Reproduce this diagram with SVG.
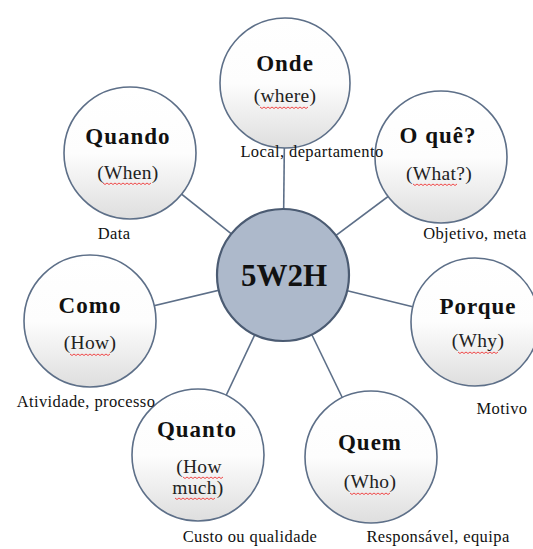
<svg xmlns="http://www.w3.org/2000/svg" width="533" height="549" viewBox="0 0 533 549">
  <defs>
    <linearGradient id="bubbleFill" x1="0" y1="0" x2="0" y2="1">
      <stop offset="0" stop-color="#ffffff"/>
      <stop offset="0.5" stop-color="#fdfdfd"/>
      <stop offset="1" stop-color="#dedede"/>
    </linearGradient>
  </defs>
  <style>
    .bubble { fill: url(#bubbleFill); stroke: #5d6f88; stroke-width: 1.6; }
    .hub { fill: #adb9cb; stroke: #4b5b72; stroke-width: 2.2; }
    .link { stroke: #5d6f88; stroke-width: 1.6; fill: none; }
    .title { font-family: "Liberation Serif", "Times New Roman", serif; font-weight: bold; font-size: 23px; letter-spacing: 1px; fill: #111; text-anchor: middle; }
    .sub { font-family: "Liberation Serif", "Times New Roman", serif; font-size: 19.5px; letter-spacing: 0.3px; fill: #222; text-anchor: middle; }
    .note { font-family: "Liberation Serif", "Times New Roman", serif; font-size: 16.5px; letter-spacing: 0.4px; fill: #111; text-anchor: middle; }
    .hubtext { font-family: "Liberation Serif", "Times New Roman", serif; font-weight: bold; font-size: 31px; fill: #111; text-anchor: middle; }
    .squiggle { stroke: #f04848; stroke-width: 1; fill: none; }
  </style>
  <rect width="533" height="549" fill="#ffffff"/>

  <!-- spokes from the hub to each question -->
  <g id="connectors">
    <line class="link" x1="283" y1="275" x2="285" y2="83"/>
    <line class="link" x1="283" y1="275" x2="130" y2="153"/>
    <line class="link" x1="283" y1="275" x2="441" y2="157"/>
    <line class="link" x1="283" y1="275" x2="475" y2="322"/>
    <line class="link" x1="283" y1="275" x2="90" y2="321"/>
    <line class="link" x1="283" y1="275" x2="198" y2="455"/>
    <line class="link" x1="283" y1="275" x2="371" y2="457"/>
  </g>

  <g id="hub">
    <circle class="hub" cx="283" cy="275" r="66"/>
    <text class="hubtext" x="284" y="286">5W2H</text>
  </g>

  <g id="quando">
    <circle class="bubble" cx="130" cy="153" r="66"/>
    <text class="title" x="128" y="144">Quando</text>
    <text class="sub" x="128" y="179">(When)</text>
    <path class="squiggle" d="M103,183 l2,1.5 2,-1.5 2,1.5 2,-1.5 2,1.5 2,-1.5 2,1.5 2,-1.5 2,1.5 2,-1.5 2,1.5 2,-1.5 2,1.5 2,-1.5 2,1.5 2,-1.5 2,1.5 2,-1.5 2,1.5 2,-1.5 2,1.5 2,-1.5 2,1.5 2,-1.5"/>
    <text class="note" x="114" y="239">Data</text>
  </g>

  <g id="oque">
    <circle class="bubble" cx="441" cy="157" r="66"/>
    <text class="title" x="438" y="143">O quê?</text>
    <text class="sub" x="439" y="180">(What?)</text>
    <path class="squiggle" d="M413,184 l2,1.5 2,-1.5 2,1.5 2,-1.5 2,1.5 2,-1.5 2,1.5 2,-1.5 2,1.5 2,-1.5 2,1.5 2,-1.5 2,1.5 2,-1.5 2,1.5 2,-1.5 2,1.5 2,-1.5 2,1.5 2,-1.5 2,1.5 2,-1.5"/>
    <text class="note" x="475" y="239">Objetivo, meta</text>
  </g>

  <g id="porque">
    <circle class="bubble" cx="475" cy="322" r="64"/>
    <text class="title" x="478" y="314">Porque</text>
    <text class="sub" x="478" y="347">(Why)</text>
    <path class="squiggle" d="M458,352 l2,1.5 2,-1.5 2,1.5 2,-1.5 2,1.5 2,-1.5 2,1.5 2,-1.5 2,1.5 2,-1.5 2,1.5 2,-1.5 2,1.5 2,-1.5 2,1.5 2,-1.5 2,1.5 2,-1.5 2,1.5 2,-1.5"/>
    <text class="note" x="502" y="414">Motivo</text>
  </g>

  <g id="quanto">
    <circle class="bubble" cx="198" cy="455" r="66"/>
    <text class="title" x="197" y="437">Quanto</text>
    <text class="sub" x="199" y="473">(How</text>
    <text class="sub" x="198" y="494">much)</text>
    <path class="squiggle" d="M183,477 l2,1.5 2,-1.5 2,1.5 2,-1.5 2,1.5 2,-1.5 2,1.5 2,-1.5 2,1.5 2,-1.5 2,1.5 2,-1.5 2,1.5 2,-1.5 2,1.5 2,-1.5 2,1.5 2,-1.5 2,1.5 2,-1.5"/>
    <path class="squiggle" d="M175,498 l2,1.5 2,-1.5 2,1.5 2,-1.5 2,1.5 2,-1.5 2,1.5 2,-1.5 2,1.5 2,-1.5 2,1.5 2,-1.5 2,1.5 2,-1.5 2,1.5 2,-1.5 2,1.5 2,-1.5 2,1.5 2,-1.5"/>
    <text class="note" x="250" y="542">Custo ou qualidade</text>
  </g>

  <g id="quem">
    <circle class="bubble" cx="371" cy="457" r="66"/>
    <text class="title" x="370" y="450">Quem</text>
    <text class="sub" x="370" y="488">(Who)</text>
    <path class="squiggle" d="M350,493 l2,1.5 2,-1.5 2,1.5 2,-1.5 2,1.5 2,-1.5 2,1.5 2,-1.5 2,1.5 2,-1.5 2,1.5 2,-1.5 2,1.5 2,-1.5 2,1.5 2,-1.5 2,1.5 2,-1.5 2,1.5 2,-1.5"/>
    <text class="note" x="438" y="542">Responsável, equipa</text>
  </g>

  <!-- drawn late so its caption sits over the neighbouring bubble -->
  <g id="como">
    <circle class="bubble" cx="90" cy="321" r="66"/>
    <text class="title" x="90" y="313">Como</text>
    <text class="sub" x="90" y="349">(How)</text>
    <path class="squiggle" d="M70,354 l2,1.5 2,-1.5 2,1.5 2,-1.5 2,1.5 2,-1.5 2,1.5 2,-1.5 2,1.5 2,-1.5 2,1.5 2,-1.5 2,1.5 2,-1.5 2,1.5 2,-1.5 2,1.5 2,-1.5 2,1.5 2,-1.5"/>
    <text class="note" x="86" y="407">Atividade, processo</text>
  </g>

  <g id="onde">
    <circle class="bubble" cx="285" cy="83" r="65"/>
    <text class="title" x="285" y="71">Onde</text>
    <text class="sub" x="285" y="102">(where)</text>
    <path class="squiggle" d="M260,107 l2,1.5 2,-1.5 2,1.5 2,-1.5 2,1.5 2,-1.5 2,1.5 2,-1.5 2,1.5 2,-1.5 2,1.5 2,-1.5 2,1.5 2,-1.5 2,1.5 2,-1.5 2,1.5 2,-1.5 2,1.5 2,-1.5 2,1.5 2,-1.5 2,1.5 2,-1.5"/>
    <text class="note" x="312" y="157">Local, departamento</text>
  </g>
</svg>
